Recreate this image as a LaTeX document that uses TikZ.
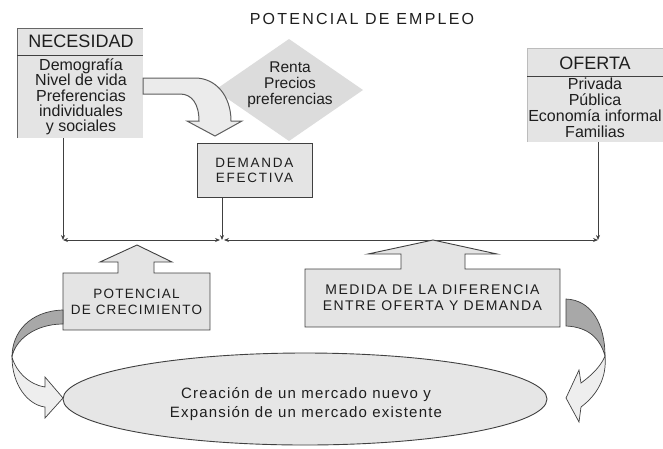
\documentclass[tikz,border=0pt]{standalone}
\usepackage{fontspec}
\setmainfont{Liberation Sans}
\usetikzlibrary{shapes.geometric,arrows.meta,calc}
\definecolor{boxfill}{HTML}{E4E4E4}
\definecolor{diafill}{HTML}{DCDCDC}
\definecolor{ellfill}{HTML}{E6E6E6}
\definecolor{arrowfill}{HTML}{EBEBEB}
\definecolor{ribbondark}{HTML}{A8A8A8}
\definecolor{ribbonlight}{HTML}{EEEEEE}
\definecolor{edge}{HTML}{404040}
\definecolor{ink}{HTML}{1E1E1E}
\newcommand{\tightlines}{\lineskiplimit=-10pt\relax}
\begin{document}
\begin{tikzpicture}[x=1pt,y=-1pt,
  every node/.style={inner sep=0pt, outer sep=0pt, text=ink},
  flatbox/.style={rectangle, fill=boxfill, anchor=north west},
  framebox/.style={rectangle, fill=boxfill, draw=edge, line width=0.9pt},
  outline/.style={draw=edge, line width=0.9pt},
  conn/.style={draw=edge, line width=0.8pt},
  tipend/.style={-{Stealth[length=5pt,width=4pt]}},
  tipboth/.style={{Stealth[length=5pt,width=4pt]}-{Stealth[length=5pt,width=4pt]}},
  ribbon/.style={draw=edge, line width=0.7pt},
  bodytxt/.style={align=center, font={\fontsize{16}{16}\selectfont\tightlines}},
  headtxt/.style={font={\fontsize{18}{20}\selectfont}}
]
\useasboundingbox (0,0) rectangle (663,448);

% title
\node[font={\fontsize{16}{18}\selectfont\addfontfeature{LetterSpace=14}}] (title) at (362,19) {POTENCIAL DE EMPLEO};

% NECESIDAD
\node[flatbox, minimum width=126pt, minimum height=110pt] (nec) at (17,28) {};
\draw[draw=edge!80, line width=0.8pt] (nec.south west) -- (nec.north west) -- (nec.north east);
\draw[outline] (nec.west |- 0,55) -- (nec.east |- 0,55);
\node[headtxt] (necT) at (81,41.5) {NECESIDAD};
\node[align=center, font={\fontsize{16}{15.3}\selectfont\tightlines}] (necB) at (81,97) {Demografía\\Nivel de vida\\Preferencias\\individuales\\y sociales};

% diamond
\node[diamond, fill=diafill, minimum width=148pt, minimum height=102pt] (dia) at (289,90) {};
\node[align=center, font={\fontsize{15.5}{16}\selectfont\tightlines}] (diaT) at (290,85) {Renta\\Precios\\preferencias};

% big bent arrow
\filldraw[fill=arrowfill, draw=edge!85, line width=1pt]
  (nec.east |- 0,78) -- (195,78) .. controls (216,78) and (231,96) .. (231,121)
  -- (242,121) -- (215,136) -- (187,121) -- (199,121)
  .. controls (199,104) and (192,94) .. (180,94) -- (nec.east |- 0,94) -- cycle;

% DEMANDA EFECTIVA
\node[framebox, minimum width=115pt, minimum height=54pt, align=center,
  font={\fontsize{13.5}{15}\selectfont\addfontfeature{LetterSpace=13}}] (dem) at (254.5,170) {DEMANDA\\EFECTIVA};

% OFERTA
\node[flatbox, minimum width=136pt, minimum height=94pt] (ofe) at (527,48) {};
\draw[draw=edge!35, line width=0.8pt] (ofe.south west) -- (ofe.north west) -- (ofe.north east);
\draw[outline] (ofe.west |- 0,76) -- (ofe.east |- 0,76);
\node[headtxt] (ofeT) at (595,63.5) {OFERTA};
\node[bodytxt] (ofeB) at (595,108) {Privada\\Pública\\Economía informal\\Familias};

% connectors
\coordinate (j1) at (63,240);
\coordinate (j2) at (222,240);
\coordinate (j2a) at (220,240);
\coordinate (j2b) at (224,240);
\coordinate (j3) at (598,240);
\draw[conn, tipend] (nec.south -| j1) -- (j1);
\draw[conn, tipend] (dem.south -| j2) -- (j2);
\draw[conn, tipend] (ofe.south -| j3) -- (j3);
\draw[conn, tipboth] (j1) -- (j2a);
\draw[conn, tipboth] (j2b) -- (j3);

% POTENCIAL DE CRECIMIENTO
\node[rectangle, fill=boxfill, minimum width=147pt, minimum height=57pt, align=center,
  font={\fontsize{13.5}{16}\selectfont\addfontfeature{LetterSpace=9}}] (pot) at (136.5,301.5) {POTENCIAL\\DE CRECIMIENTO};
\fill[boxfill] (118,274) -- (118,262) -- (100,262) -- (137,245) -- (172,262) -- (154,262) -- (154,274) -- cycle;
\draw[outline] (pot.south west) -- (pot.north west) -- (118,273) -- (118,262) -- (100,262) -- (137,245)
  -- (172,262) -- (154,262) -- (154,273) -- (pot.north east) -- (pot.south east) -- cycle;

% MEDIDA DE LA DIFERENCIA
\node[rectangle, fill=boxfill, minimum width=255pt, minimum height=58pt, align=center,
  font={\fontsize{14}{16}\selectfont\addfontfeature{LetterSpace=10}}] (med) at (432.5,298) {MEDIDA DE LA DIFERENCIA\\ENTRE OFERTA Y DEMANDA};
\fill[boxfill] (401,270) -- (401,254) -- (368,254) -- (433,240) -- (497,254) -- (465,254) -- (465,270) -- cycle;
\draw[outline] (med.south west) -- (med.north west) -- (401,269) -- (401,254) -- (368,254) -- (433,240)
  -- (497,254) -- (465,254) -- (465,269) -- (med.north east) -- (med.south east) -- cycle;

% ellipse
\node[ellipse, draw=edge, line width=0.9pt, fill=ellfill, minimum width=484pt, minimum height=92pt] (ell) at (305,399) {};
\node[align=center, font={\fontsize{15}{19}\selectfont\addfontfeature{LetterSpace=8}}] (ellT) at (306,404) {Creación de un mercado nuevo y\\Expansión de un mercado existente};

% left ribbon arrow
\filldraw[ribbon, fill=ribbondark] (pot.west |- 0,310) .. controls (30,311) and (12,332) .. (12,357)
  .. controls (15,340) and (35,324) .. (pot.west |- 0,324) -- cycle;
\filldraw[ribbon, fill=ribbonlight] (12,357) .. controls (12,385) and (28,405) .. (45,407)
  -- (45,418) -- (63,398) -- (45,377) -- (45,387) .. controls (30,385) and (16,372) .. (12,357) -- cycle;

% right ribbon arrow
\filldraw[ribbon, fill=ribbondark] (566,299) .. controls (592,300) and (605,325) .. (605,356)
  .. controls (600,338) and (588,327) .. (566,326) -- cycle;
\filldraw[ribbon, fill=ribbonlight] (605,356) .. controls (607,378) and (597,395) .. (581,407)
  -- (579,422) -- (566,398) -- (579,370) -- (581,383) .. controls (592,375) and (601,366) .. (605,356) -- cycle;
\end{tikzpicture}
\end{document}
